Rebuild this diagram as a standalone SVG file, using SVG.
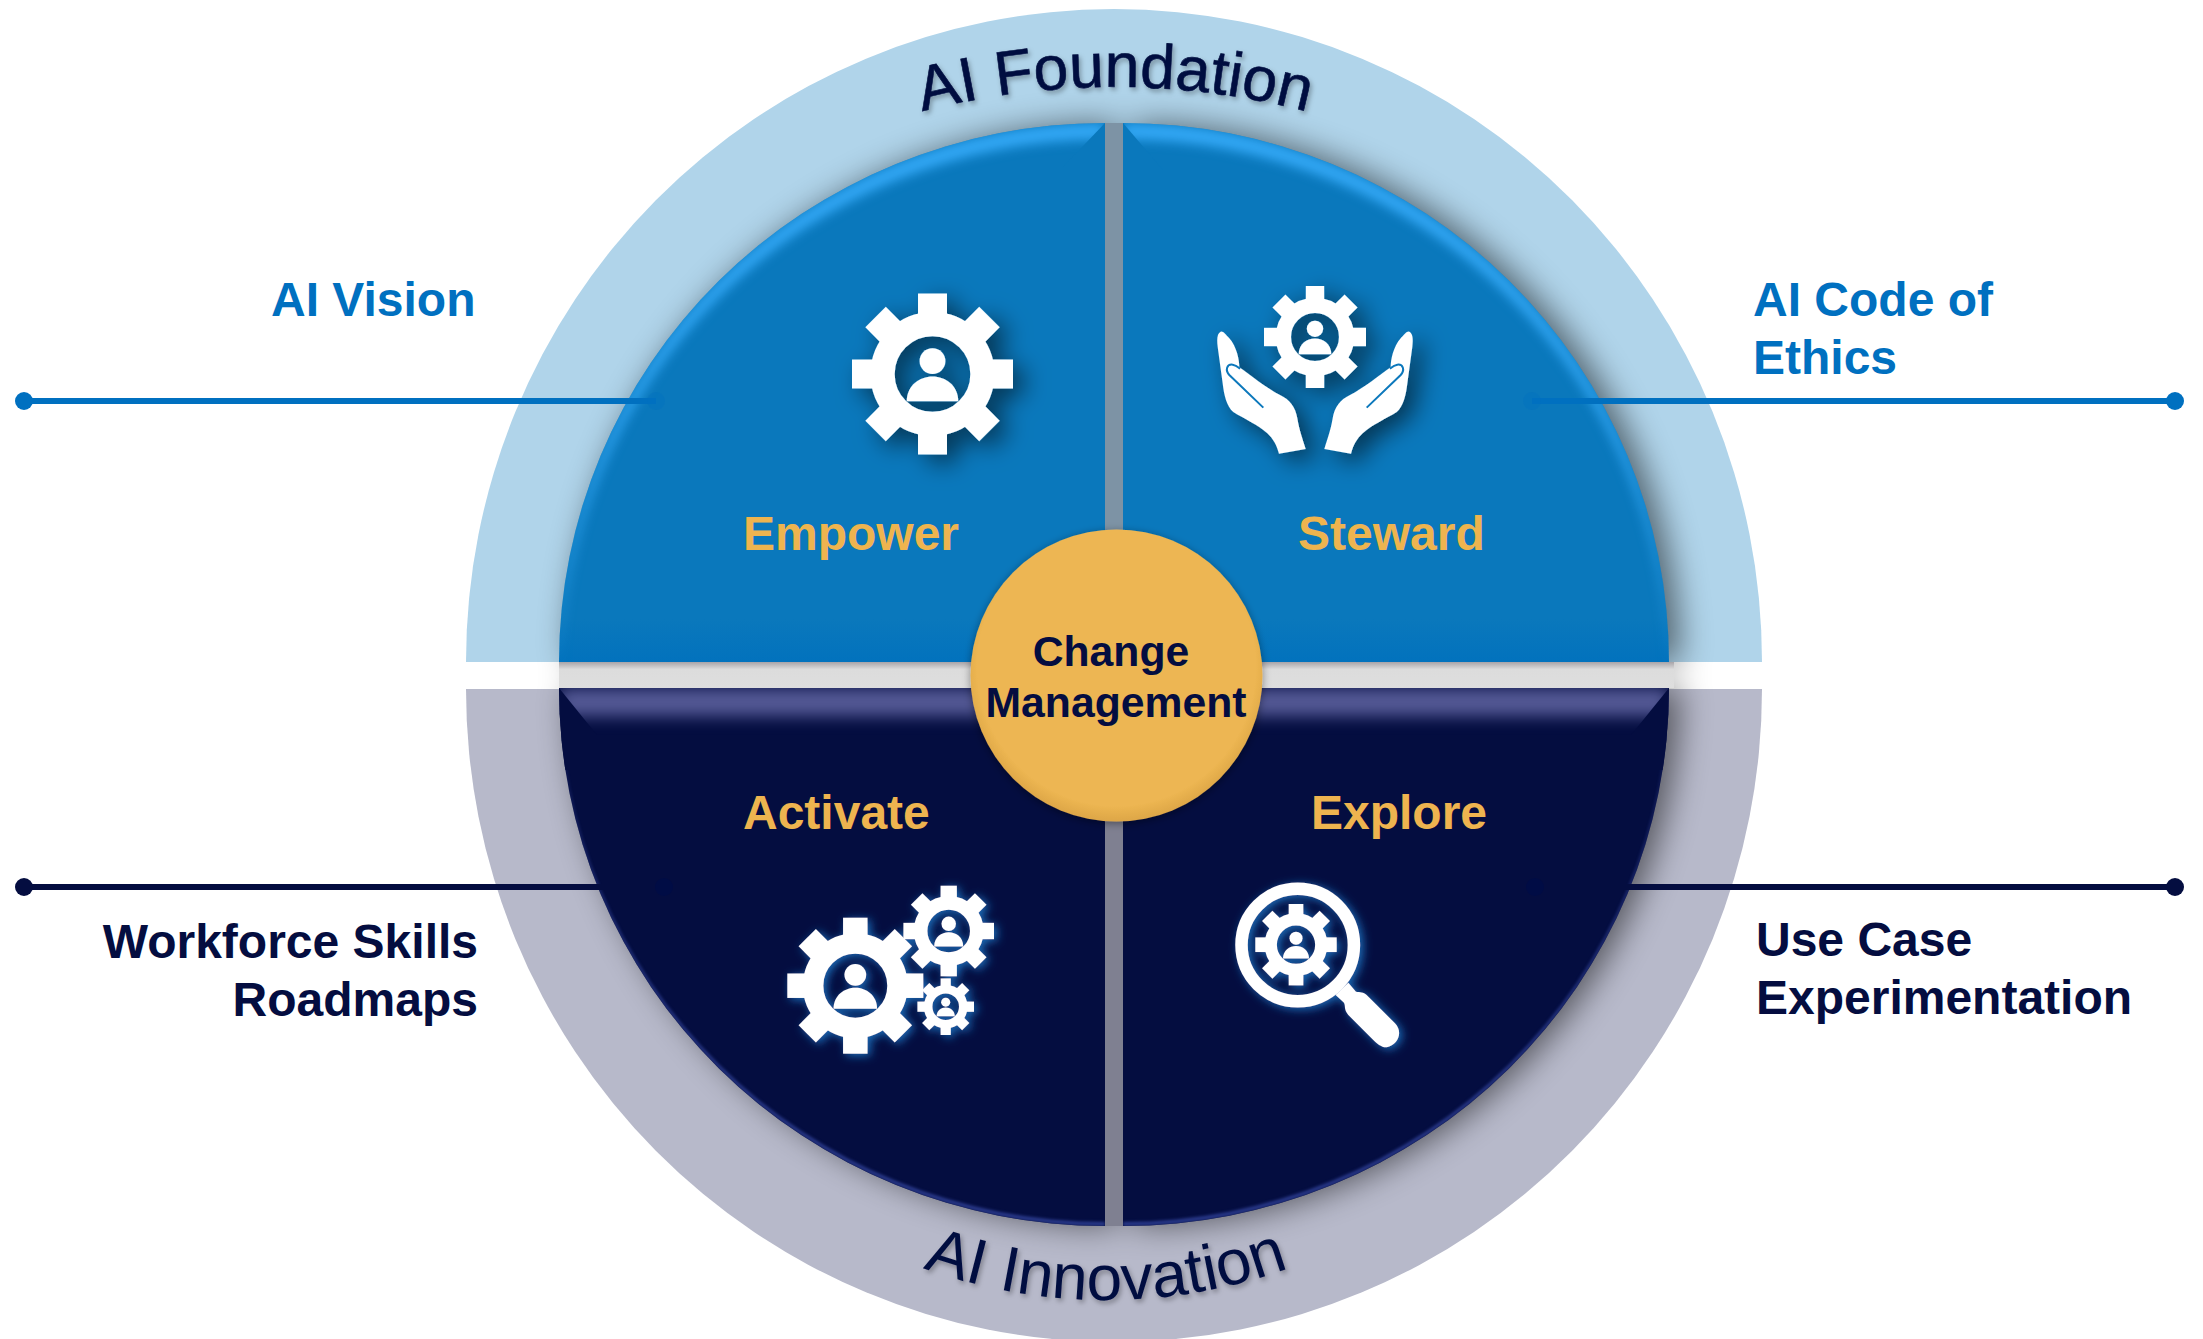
<svg xmlns="http://www.w3.org/2000/svg" xmlns:xlink="http://www.w3.org/1999/xlink" width="2203" height="1339" viewBox="0 0 2203 1339">
<style>
text{font-family:"Liberation Sans",Arial,sans-serif}
.lbl{font-size:48px;font-weight:700}
.blue{fill:#0070c0}.navy{fill:#040d40}.gold{fill:#eeb44f}
.ctr{font-size:42.7px;font-weight:700;fill:#040d40;text-anchor:middle}
.arc{fill:#040d40;text-anchor:middle}
.ln{fill:none;stroke-width:6}
.ic{fill:#fff}
</style>
<defs>
<linearGradient id="gb" x1="0" y1="0" x2="0" y2="1"><stop offset="0" stop-color="#0a78bc"/><stop offset=".92" stop-color="#0a78bc"/><stop offset="1" stop-color="#0272bd"/></linearGradient>
<linearGradient id="gap" x1="0" y1="0" x2="0" y2="1"><stop offset="0" stop-color="#a8a4a8"/><stop offset=".28" stop-color="#dcdcdc"/><stop offset="1" stop-color="#dedede"/></linearGradient>
<radialGradient id="gg" cx=".5" cy=".47" r=".53"><stop offset="0" stop-color="#edb652"/><stop offset=".9" stop-color="#edb652"/><stop offset="1" stop-color="#dda647"/></radialGradient>
<filter id="qshadow" x="-10%" y="-10%" width="120%" height="120%"><feGaussianBlur stdDeviation="16"/><feOffset dx="11" dy="0"/></filter>
<filter id="bevT" x="-2%" y="-2%" width="104%" height="104%" color-interpolation-filters="sRGB">
<feOffset in="SourceAlpha" dy="16" result="o1"/><feComposite in="SourceAlpha" in2="o1" operator="out" result="e1"/><feGaussianBlur in="e1" stdDeviation="6" result="b1"/><feFlood flood-color="#35aaf8"/><feComposite in2="b1" operator="in"/><feComposite in2="SourceAlpha" operator="in" result="h1"/>
<feMerge><feMergeNode in="SourceGraphic"/><feMergeNode in="h1"/></feMerge></filter>
<filter id="bevB" x="-2%" y="-2%" width="104%" height="104%" color-interpolation-filters="sRGB">
<feOffset in="SourceAlpha" dy="28" result="o1"/><feComposite in="SourceAlpha" in2="o1" operator="out" result="e1"/><feGaussianBlur in="e1" stdDeviation="8" result="b1"/><feFlood flood-color="#555a96"/><feComposite in2="b1" operator="in"/><feComposite in2="SourceAlpha" operator="in" result="h1"/>
<feOffset in="SourceAlpha" dy="-4" result="o2"/><feComposite in="SourceAlpha" in2="o2" operator="out" result="e2"/><feGaussianBlur in="e2" stdDeviation="1.5" result="b2"/><feFlood flood-color="#2a3a8c"/><feComposite in2="b2" operator="in"/><feComposite in2="SourceAlpha" operator="in" result="h2"/>
<feMerge><feMergeNode in="SourceGraphic"/><feMergeNode in="h1"/><feMergeNode in="h2"/></feMerge></filter>
<filter id="sd" x="-30%" y="-30%" width="170%" height="170%"><feDropShadow dx="10" dy="8" stdDeviation="12" flood-color="#000" flood-opacity=".55"/></filter>
<filter id="gl" x="-30%" y="-30%" width="170%" height="170%"><feDropShadow dx="3" dy="2" stdDeviation="5" flood-color="#1c7fd0" flood-opacity=".85"/></filter>
<filter id="ts" x="-10%" y="-20%" width="120%" height="150%"><feDropShadow dx="2" dy="3" stdDeviation="2.5" flood-color="#000" flood-opacity=".3"/></filter>
<filter id="cs" x="-20%" y="-20%" width="140%" height="140%"><feDropShadow dx="0" dy="2" stdDeviation="4" flood-color="#000" flood-opacity=".4"/></filter>
<path id="qTL" d="M1105 123A546 539 0 0 0 559 662L1105 662Z"/>
<path id="qTR" d="M1123 123A546 539 0 0 1 1669 662L1123 662Z"/>
<path id="qBL" d="M559 688A546 538 0 0 0 1105 1226L1105 688Z"/>
<path id="qBR" d="M1669 688A546 538 0 0 1 1123 1226L1123 688Z"/>
<clipPath id="cTL"><use href="#qTL"/></clipPath>
<clipPath id="cTR"><use href="#qTR"/></clipPath>
<clipPath id="cBL"><use href="#qBL"/></clipPath>
<clipPath id="cBR"><use href="#qBR"/></clipPath>
<path id="ccF" d="M921 112A764 764 0 0 1 1309 112"/>
<path id="ccI" d="M926 1269A538 538 0 0 0 1286 1269"/>
<g id="gear">
<circle cx="0" cy="0" r="62" fill="none" stroke="#fff" stroke-width="30"/>
<g class="ic">
<rect x="-18" y="-100" width="36" height="30"/><rect x="-18" y="-100" width="36" height="30" transform="rotate(45)"/>
<rect x="-18" y="-100" width="36" height="30" transform="rotate(90)"/><rect x="-18" y="-100" width="36" height="30" transform="rotate(135)"/>
<rect x="-18" y="-100" width="36" height="30" transform="rotate(180)"/><rect x="-18" y="-100" width="36" height="30" transform="rotate(225)"/>
<rect x="-18" y="-100" width="36" height="30" transform="rotate(270)"/><rect x="-18" y="-100" width="36" height="30" transform="rotate(315)"/>
<circle cx="0" cy="-16" r="16"/><path d="M-32 34C-32 14-16 3 0 3S32 14 32 34Z"/>
</g></g>
<g id="hand">
<path class="ic" d="M122 215C112 220 110 235 113 260L128 370C132 405 140 440 160 456C190 475 235 495 262 520C280 537 290 555 297 581L377 567C365 530 358 510 352 475C346 440 330 420 300 405C260 385 210 345 178 322C178 300 170 260 148 235C138 225 130 213 122 215Z"/>
<path d="M250 443L148 345C135 330 140 312 158 314C170 316 175 322 180 326" fill="none" stroke="#0a78bc" stroke-width="6"/>
</g>
</defs>

<g id="rings">
<path id="ring-top" fill="#b0d4ea" d="M466 662A648 653 0 0 1 1762 662Z"/>
<path id="ring-bottom" fill="#b7b9ca" d="M466 689A648 653 0 0 0 1762 689Z"/>
</g>
<g id="shadows" filter="url(#qshadow)" fill="#000" opacity=".52">
<use href="#qTL"/><use href="#qTR"/><use href="#qBL"/><use href="#qBR"/>
</g>
<rect x="1105" y="123" width="18" height="539" fill="#7d93a5"/>
<rect x="1105" y="688" width="18" height="538" fill="#7f8091"/>
<rect x="559" y="662" width="1115" height="26" fill="url(#gap)"/>

<g id="quadrant-empower"><use href="#qTL" fill="url(#gb)" filter="url(#bevT)"/><g clip-path="url(#cTL)"><polygon points="1105,123 1105,168 1062,168" fill="#0a78bc"/></g></g>
<g id="quadrant-steward"><use href="#qTR" fill="url(#gb)" filter="url(#bevT)"/><g clip-path="url(#cTR)"><polygon points="1123,123 1123,170 1163,170" fill="#0a78bc"/></g></g>
<g id="quadrant-activate"><use href="#qBL" fill="#040d40" filter="url(#bevB)"/><g clip-path="url(#cBL)"><polygon points="559,688 597,735 597,770 555,770" fill="#040d40"/></g></g>
<g id="quadrant-explore"><use href="#qBR" fill="#040d40" filter="url(#bevB)"/><g clip-path="url(#cBR)"><polygon points="1669,688 1631,735 1631,770 1673,770" fill="#040d40"/></g></g>

<g id="connectors">
<path class="ln" stroke="#0070c0" d="M24 401H656"/><circle cx="24" cy="401" r="9" fill="#0070c0"/><circle cx="656" cy="401" r="9" fill="#0070c0" opacity=".35"/>
<path class="ln" stroke="#0070c0" d="M2175 401H1532"/><circle cx="2175" cy="401" r="9" fill="#0070c0"/><circle cx="1532" cy="401" r="9" fill="#0070c0" opacity=".35"/>
<path class="ln" stroke="#040d40" d="M24 887H664"/><circle cx="24" cy="887" r="9" fill="#040d40"/><circle cx="664" cy="887" r="9" fill="#000c45"/>
<path class="ln" stroke="#040d40" d="M2175 887H1535"/><circle cx="2175" cy="887" r="9" fill="#040d40"/><circle cx="1535" cy="887" r="9" fill="#000c45"/>
</g>

<g id="icon-empower" filter="url(#sd)"><use href="#gear" transform="translate(932.5 374) scale(.805)"/></g>
<g id="icon-steward" filter="url(#sd)">
<use href="#gear" transform="translate(1315 337) scale(.51)"/>
<use href="#hand" transform="translate(1180 260) scale(.3333)"/>
<use href="#hand" transform="translate(1450 260) scale(-.3333 .3333)"/>
</g>
<g id="icon-activate" filter="url(#gl)">
<use href="#gear" transform="translate(855.3 985.7) scale(.68)"/>
<use href="#gear" transform="translate(948.7 931) scale(.453)"/>
<use href="#gear" transform="translate(945.7 1006.7) scale(.283)"/>
</g>
<g id="icon-explore" filter="url(#gl)">
<circle cx="1297.7" cy="945" r="56.2" fill="none" stroke="#fff" stroke-width="12.5"/>
<use href="#gear" transform="translate(1296 944.7) scale(.407)"/>
<path class="ic" transform="translate(1220 860) scale(.3333)" d="M385 368L408 395C420 397 430 395 440 405L525 490C550 515 535 555 500 562C485 563 470 550 460 540L385 465C370 445 378 440 372 428L347 405Z"/>
</g>

<g id="center-change-management">
<circle cx="1116.5" cy="675.5" r="146" fill="url(#gg)" filter="url(#cs)"/>
<text class="ctr" x="1111" y="666">Change</text>
<text class="ctr" x="1116" y="717">Management</text>
</g>

<g id="label-foundation" filter="url(#ts)"><text class="arc" font-size="62.5" stroke="#040d40" stroke-width=".6"><textPath href="#ccF" startOffset="50%">AI Foundation</textPath></text></g>
<g id="label-innovation" filter="url(#ts)"><text class="arc" font-size="64"><textPath href="#ccI" startOffset="50%">AI Innovation</textPath></text></g>

<text id="t-empower" class="lbl gold" x="743" y="550">Empower</text>
<text id="t-steward" class="lbl gold" x="1298" y="550">Steward</text>
<text id="t-activate" class="lbl gold" x="743" y="829">Activate</text>
<text id="t-explore" class="lbl gold" x="1311" y="829">Explore</text>
<text id="t-vision" class="lbl blue" x="271" y="316">AI Vision</text>
<text id="t-ethics" class="lbl blue" x="1753" y="316">AI Code of<tspan x="1753" y="374">Ethics</tspan></text>
<text id="t-skills" class="lbl navy" text-anchor="end" x="478" y="958">Workforce Skills<tspan x="478" y="1016">Roadmaps</tspan></text>
<text id="t-usecase" class="lbl navy" x="1756" y="956">Use Case<tspan x="1756" y="1014">Experimentation</tspan></text>
</svg>
